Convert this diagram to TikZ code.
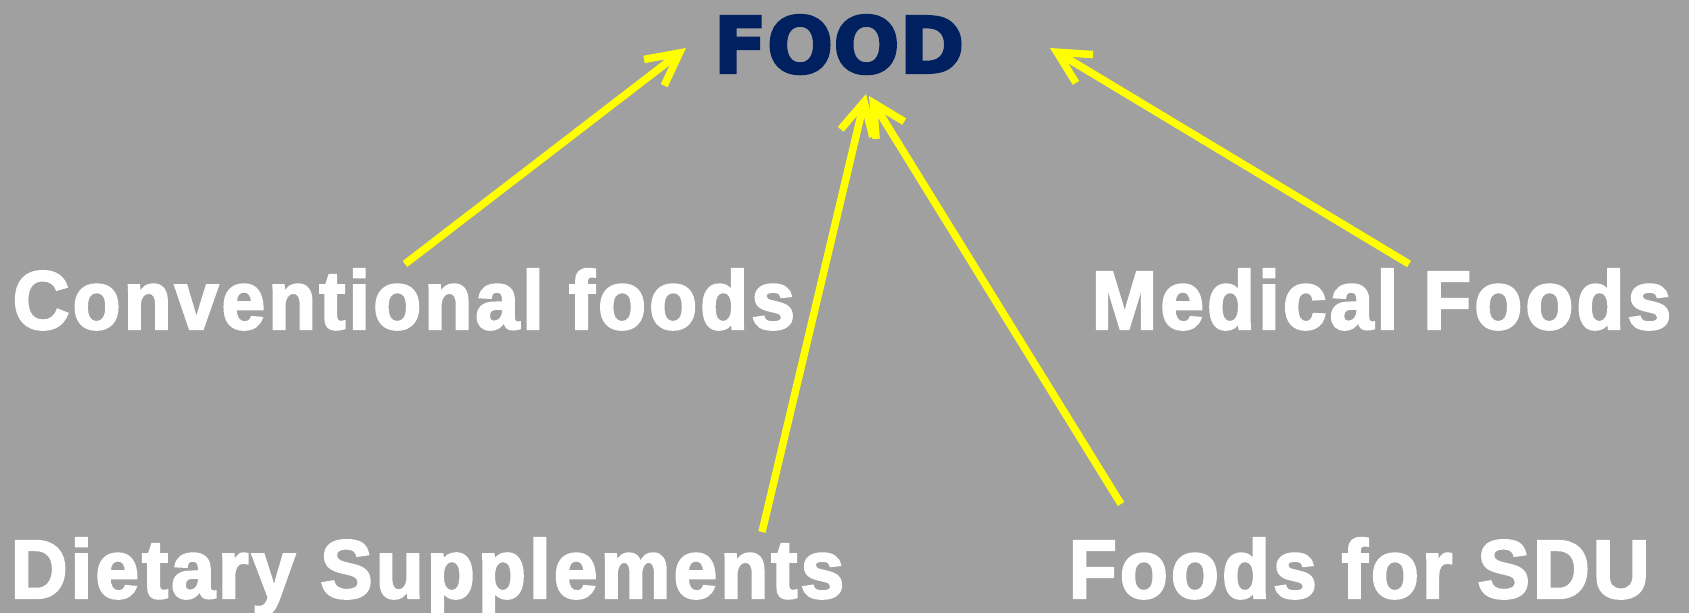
\documentclass[tikz,border=0pt]{standalone}
\usepackage{fontspec}
\setmainfont{Liberation Sans}
\newfontfamily\catfont[BoldFeatures={FakeBold=2.5,FakeStretch=0.95,LetterSpace=3.5}]{Liberation Sans}
\newfontfamily\foodfont[BoldFeatures={FakeBold=3}]{DejaVu Sans}
\usetikzlibrary{arrows.meta,positioning}
\definecolor{slidegray}{RGB}{160,160,160}
\definecolor{foodnavy}{RGB}{0,32,96}
\definecolor{arrowyellow}{RGB}{255,255,0}

\begin{document}
\begin{tikzpicture}[
  x=0.01cm, y=-0.01cm,
  cat/.style={text=white, inner sep=0pt, anchor=base west,
    font=\fontsize{23.6pt}{28pt}\selectfont\catfont\bfseries},
  top/.style={text=foodnavy, inner sep=0pt, anchor=base,
    font=\fontsize{22.2pt}{26pt}\selectfont\foodfont\bfseries},
  ar/.style={draw=arrowyellow, line width=0.075cm,
    -{Straight Barb[length=0.32cm, width=0.33cm]}},
]

%--- Hintergrund ---
\fill[slidegray] (0,0) rectangle (1689,613);

%--- Oberbegriff ---
\node[top] (food) at (839,73) {FOOD};

%--- Kategorien ---
\node[cat] (conv) at (12,329)   {Conventional foods};
\node[cat] (med)  at (1091,329) {Medical Foods};
\node[cat] (diet) at (10,598)   {Dietary Supplements};
\node[cat] (sdu)  at (1068,598) {Foods for SDU};

%--- Pfeilenden ---
\coordinate (convtail) at (405,264);
\coordinate (convhead) at (686,48);
\coordinate (medtail)  at (1409,264);
\coordinate (medhead)  at (1050,48);
\coordinate (diettail) at (762,532);
\coordinate (diethead) at (866,94);
\coordinate (sdutail)  at (1121,504);
\coordinate (sduhead)  at (869,96);

%--- Pfeile ---
\draw[ar] (convtail) -- (convhead);
\draw[ar] (medtail) -- (medhead);
\draw[ar] (diettail) -- (diethead);
\draw[ar] (sdutail) -- (sduhead);

\end{tikzpicture}
\end{document}
